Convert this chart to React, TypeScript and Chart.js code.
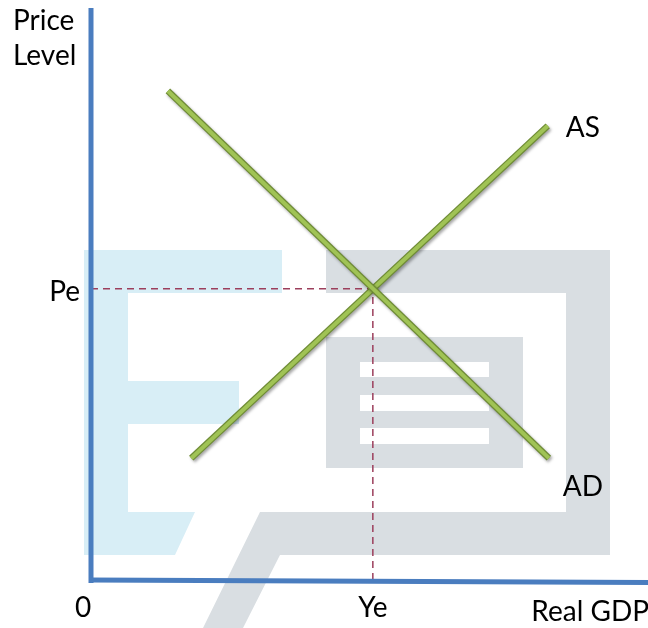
import React, { useEffect, useRef } from "react";
import { Chart, registerables } from "chart.js";

Chart.register(...registerables);

// ---- data (abstract units, 0..10 on both axes) ----
const xRange = [0, 10];
const yRange = [0, 10];
const adX = [1.38, 8.22];
const adY = [8.55, 2.13];
const asX = [1.8, 8.2];
const asY = [2.13, 7.94];
const equilibriumX = 5.06; // Ye
const equilibriumY = 5.09; // Pe
const curveNames = ["AD", "AS"];
const yAxisTitle = ["Price", "Level"];
const xAxisTitle = "Real GDP";
const tickLabels = ["0", "Pe", "Ye"];

// ---- decorative watermark (in the same axis units) ----
const wmBlue: number[][] = [
  [-0.126, 5.769], [3.429, 5.769], [3.429, 5.017], [0.664, 5.017], [0.664, 3.479],
  [2.657, 3.479], [2.657, 2.727], [0.664, 2.727], [0.664, 1.189], [1.867, 1.189],
  [1.508, 0.437], [-0.126, 0.437],
];
const wmGray: number[][] = [
  [4.219, 5.769], [9.318, 5.769], [9.318, 0.437], [3.393, 0.437], [2.729, -0.839],
  [2.011, -0.839], [3.034, 1.189], [8.528, 1.189], [8.528, 5.017], [4.219, 5.017],
];
const wmBox = [4.219, 4.248, 7.756, 1.958];
const wmStripes = [
  [4.829, 3.811, 7.145, 3.549],
  [4.829, 3.234, 7.145, 2.955],
  [4.829, 2.657, 7.145, 2.378],
];

const FONT = '28px Lato, "Open Sans", sans-serif';
const GREEN_OUT = "#6f8c36";
const GREEN_IN = "#a0c355";
const AXIS = "#4a7dbf";
const DASH = "#9c3f5c";

const pts = (xs: number[], ys: number[]) => xs.map((v, i) => ({ x: v, y: ys[i] }));

const overlay = {
  id: "overlay",
  beforeDatasetsDraw(chart: any) {
    const { ctx, scales } = chart;
    const X = (v: number) => scales.x.getPixelForValue(v);
    const Y = (v: number) => scales.y.getPixelForValue(v);
    const poly = (p: number[][], c: string) => {
      ctx.beginPath();
      p.forEach(([a, b], i) => (i ? ctx.lineTo(X(a), Y(b)) : ctx.moveTo(X(a), Y(b))));
      ctx.closePath();
      ctx.fillStyle = c;
      ctx.fill();
    };
    const rect = (r: number[], c: string) => {
      ctx.fillStyle = c;
      ctx.fillRect(X(r[0]), Y(r[1]), X(r[2]) - X(r[0]), Y(r[3]) - Y(r[1]));
    };
    ctx.save();
    poly(wmBlue, "#d8eef6");
    poly(wmGray, "#d9dee2");
    rect(wmBox, "#d9dee2");
    wmStripes.forEach((s) => rect(s, "#ffffff"));
    ctx.restore();
  },
  beforeDatasetDraw(chart: any, args: any) {
    const ds = chart.data.datasets[args.index];
    if (ds.shadow) {
      const ctx = chart.ctx;
      ctx.shadowColor = "rgba(0,0,0,0.35)";
      ctx.shadowBlur = 3;
      ctx.shadowOffsetX = 1.5;
      ctx.shadowOffsetY = 2;
    }
  },
  afterDatasetDraw(chart: any) {
    const ctx = chart.ctx;
    ctx.shadowColor = "rgba(0,0,0,0)";
    ctx.shadowBlur = 0;
    ctx.shadowOffsetX = 0;
    ctx.shadowOffsetY = 0;
  },
  afterDatasetsDraw(chart: any) {
    const { ctx, scales, width } = chart;
    const x = scales.x, y = scales.y;
    const x0 = x.getPixelForValue(xRange[0]);
    const y0 = y.getPixelForValue(yRange[0]);
    ctx.save();
    ctx.strokeStyle = AXIS;
    ctx.lineWidth = 5;
    ctx.lineCap = "butt";
    ctx.beginPath();
    ctx.moveTo(x0, y.getPixelForValue(yRange[1]));
    ctx.lineTo(x0, y0 + 3);
    ctx.stroke();
    ctx.beginPath();
    ctx.moveTo(x0 - 2, y0);
    ctx.lineTo(width, y0 + 2.5);
    ctx.stroke();

    ctx.fillStyle = "#000000";
    ctx.font = FONT;
    ctx.textBaseline = "alphabetic";
    // y axis title
    ctx.textAlign = "left";
    ctx.fillText(yAxisTitle[0], 13, 30);
    ctx.fillText(yAxisTitle[1], 13, 65);
    // x axis title
    ctx.textAlign = "right";
    ctx.fillText(xAxisTitle, width + 1, 621);
    // origin
    ctx.textAlign = "center";
    ctx.fillText(tickLabels[0], x0 - 8, y0 + 37);
    // Ye
    ctx.fillText(tickLabels[2], x.getPixelForValue(equilibriumX), y0 + 37);
    // Pe
    ctx.textAlign = "right";
    ctx.textBaseline = "middle";
    ctx.fillText(tickLabels[1], x0 - 11, y.getPixelForValue(equilibriumY) + 3);
    // curve labels
    ctx.textAlign = "left";
    ctx.textBaseline = "alphabetic";
    ctx.fillText(curveNames[0], x.getPixelForValue(adX[1]) + 14, y.getPixelForValue(adY[1]) + 38);
    ctx.fillText(curveNames[1], x.getPixelForValue(asX[1]) + 18, y.getPixelForValue(asY[1]) + 11);
    ctx.restore();
  },
};

export default function App() {
  const ref = useRef<HTMLCanvasElement>(null);
  useEffect(() => {
    document.body.style.margin = "0";
    const line = (data: any, color: string, width: number, order: number, extra: any = {}) => ({
      data,
      borderColor: color,
      backgroundColor: color,
      borderWidth: width,
      pointRadius: 0,
      showLine: true,
      fill: false,
      order,
      ...extra,
    });
    const chart = new Chart(ref.current!, {
      type: "scatter",
      data: {
        datasets: [
          line(pts(adX, adY), GREEN_IN, 4, 0),
          line(pts(adX, adY), GREEN_OUT, 6.5, 1, { shadow: true }),
          line(pts(asX, asY), GREEN_IN, 4, 2),
          line(pts(asX, asY), GREEN_OUT, 6.5, 3, { shadow: true }),
          line(pts([xRange[0], equilibriumX], [equilibriumY, equilibriumY]), DASH, 1.5, 4, { borderDash: [7, 5] }),
          line(pts([equilibriumX, equilibriumX], [yRange[0], equilibriumY]), DASH, 1.5, 5, { borderDash: [7, 5] }),
        ] as any,
      },
      options: {
        animation: false,
        responsive: false,
        devicePixelRatio: 1,
        layout: { padding: { left: 91, right: 0, top: 8, bottom: 48 } },
        plugins: { legend: { display: false }, tooltip: { enabled: false } },
        events: [],
        scales: {
          x: { type: "linear", min: xRange[0], max: xRange[1], display: false },
          y: { type: "linear", min: yRange[0], max: yRange[1], display: false },
        },
      },
      plugins: [overlay as any],
    });
    return () => chart.destroy();
  }, []);
  return (
    <div style={{ position: "fixed", left: 0, top: 0, width: 648, height: 628, background: "#fff" }}>
      <canvas ref={ref} width={648} height={628} style={{ display: "block" }} />
    </div>
  );
}
